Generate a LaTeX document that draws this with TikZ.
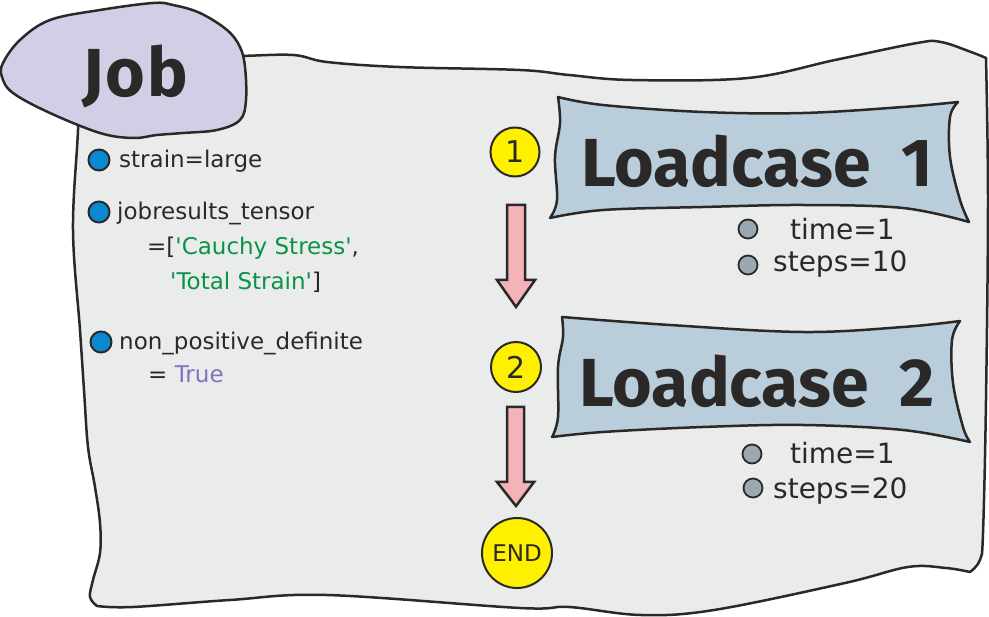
\documentclass[tikz,border=0pt]{standalone}
\usepackage{fontspec}
\setmainfont{DejaVu Sans}
\newfontfamily\bodyfont{DejaVu Sans}[Ligatures=TeXOff]
\newfontfamily\titlefont{Fira Sans}
\definecolor{ink}{HTML}{2A2928}
\definecolor{sheetfill}{HTML}{EAECEB}
\definecolor{blobfill}{HTML}{D3CEE6}
\definecolor{bannerfill}{HTML}{B9CDDA}
\definecolor{yel}{HTML}{FFF000}
\definecolor{pinkfill}{HTML}{F4B3B8}
\definecolor{dotblue}{HTML}{0A88D2}
\definecolor{dotgrey}{HTML}{9AA9B1}
\definecolor{codegreen}{HTML}{0A9346}
\definecolor{codepurple}{HTML}{7F73BF}
\tikzset{
  outline/.style={draw=ink, line width=2.5pt, line join=round},
  sheetbox/.style={outline, fill=sheetfill},
  blobbox/.style={outline, fill=blobfill},
  bannerbox/.style={outline, fill=bannerfill},
  pinkarrow/.style={draw=ink, line width=2.5pt, line join=miter, fill=pinkfill},
  numcircle/.style={circle, draw=ink, line width=2pt, fill=yel, inner sep=0pt, text=ink},
  bluedot/.style={circle, draw=ink, line width=2pt, fill=dotblue, minimum size=21pt, inner sep=0pt},
  greydot/.style={circle, draw=ink, line width=1.8pt, fill=dotgrey, minimum size=19pt, inner sep=0pt},
  bodytext/.style={anchor=base west, inner sep=0pt, text=ink, font=\bodyfont\fontsize{23}{26}\selectfont},
  stattext/.style={anchor=base west, inner sep=0pt, text=ink, font=\bodyfont\fontsize{28}{30}\selectfont},
  bigtitle/.style={anchor=base, inner sep=0pt, text=ink, font=\titlefont\bfseries\fontsize{68}{72}\selectfont},
}
\begin{document}
\begin{tikzpicture}[x=1pt,y=-1pt]
\useasboundingbox (0,0) rectangle (989,617);
% sheet
\path[sheetbox]
  plot[smooth, tension=0.6] coordinates {(80,60) (160,57) (238,56) (293,55) (327,62) (399,67) (520,70) (569,75) (632,80) (748,78) (835,60) (917,43) (941,42) (971,52) (986,58)}
  -- plot[smooth, tension=0.6] coordinates {(986,58) (988,200) (986,400) (983,533) (980,560) (970,572)}
  -- plot[smooth, tension=0.6] coordinates {(970,572) (946,568) (908,567) (845,583) (714,610) (641,615) (569,607) (520,608) (327,595) (230,600) (133,607) (97,606)}
  -- plot[smooth, tension=0.6] coordinates {(97,606) (90,597) (93,580) (100,553) (100,523) (95,487) (88,447) (84,390) (80,330) (73,230) (78,130) (80,60)}
  -- cycle;
% job blob
\path[blobbox] plot[smooth cycle, tension=0.6] coordinates {(153,3) (100,10) (50,20) (20,40) (3,63) (2,77) (13,93) (50,113) (100,133) (133,138) (157,135) (183,133) (217,130) (240,120) (246,100) (245,67) (240,47) (227,30) (200,13) (173,5)};
\node[bigtitle] (job) at (135,97) {J\kern2pt o\kern2pt b};
% banner 1
\path[bannerbox]
  plot[smooth, tension=0.6] coordinates {(558,97) (603,105) (703,112) (803,113) (903,107) (958,102)}
  -- plot[smooth, tension=0.6] coordinates {(958,102) (950,117) (950,157) (960,200) (969,222)}
  -- plot[smooth, tension=0.6] coordinates {(969,222) (903,208) (803,205) (703,207) (603,210) (550,218)}
  -- plot[smooth, tension=0.6] coordinates {(550,218) (557,200) (555,157) (560,123) (558,97)}
  -- cycle;
\node[bigtitle] (lc1) at (757,187) {Loadcase\hspace{0.45em}1};
% banner 2
\path[bannerbox]
  plot[smooth, tension=0.6] coordinates {(562,317) (670,325) (803,332) (903,327) (960,321)}
  -- plot[smooth, tension=0.6] coordinates {(960,321) (952,340) (953,383) (963,427) (970,442)}
  -- plot[smooth, tension=0.6] coordinates {(970,442) (903,430) (803,425) (703,427) (603,432) (552,437)}
  -- plot[smooth, tension=0.6] coordinates {(552,437) (558,417) (558,367) (563,337) (562,317)}
  -- cycle;
\node[bigtitle] (lc2) at (757,407) {Loadcase\hspace{0.45em}2};
% step circles
\node[numcircle, minimum size=49pt, font=\bodyfont\fontsize{30}{30}\selectfont] (c1) at (515,152) {1};
\node[numcircle, minimum size=50pt, font=\bodyfont\fontsize{30}{30}\selectfont] (c2) at (516,367) {2};
\node[numcircle, minimum size=70pt, font=\bodyfont\fontsize{23}{23}\selectfont] (cend) at (517,553) {END};
% block arrows
\path[pinkarrow] (507,205) -- (525,205) -- (525,280) -- (535,280) -- (516,307) -- (497,280) -- (507,280) -- cycle;
\path[pinkarrow] (507,407) -- (524,407) -- (524,482) -- (534,482) -- (516,506) -- (497,482) -- (507,482) -- cycle;
% left bullets
\node[bluedot] (b1) at (99,160) {};
\node[bluedot] (b2) at (99,212) {};
\node[bluedot] (b3) at (101,342) {};
\node[bodytext] (t1) at (119,168) {strain=large};
\node[bodytext] (t2) at (117,220) {jobresults\_tensor};
\node[bodytext] (t3) at (147,255) {=[\textcolor{codegreen}{'Cauchy Stress'},};
\node[bodytext] (t4) at (170,290) {\textcolor{codegreen}{'Total Strain'}]};
\node[bodytext] (t5) at (119,350) {non\_positive\_definite};
\node[bodytext] (t6) at (148,383) {= \textcolor{codepurple}{True}};
% loadcase parameters
\node[greydot] (g1) at (748,229) {};
\node[greydot] (g2) at (748,265) {};
\node[stattext] (s1) at (790,240) {time=1};
\node[stattext] (s2) at (773,272) {steps=10};
\node[greydot] (g3) at (752,454) {};
\node[greydot] (g4) at (753,488) {};
\node[stattext] (s3) at (790,464) {time=1};
\node[stattext] (s4) at (773,499) {steps=20};
\end{tikzpicture}
\end{document}
